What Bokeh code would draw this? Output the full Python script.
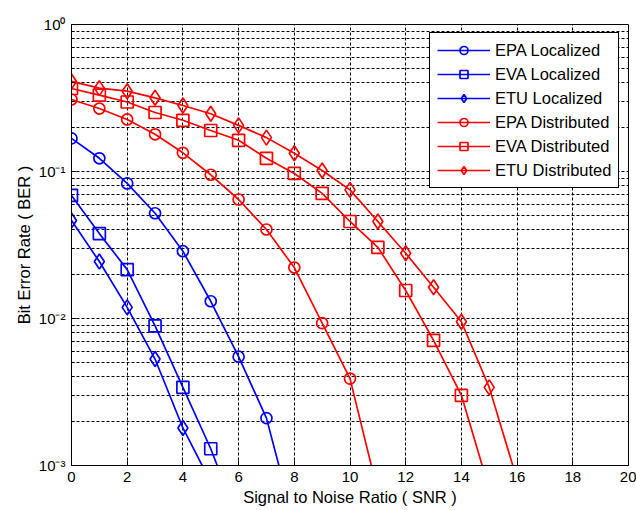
from bokeh.plotting import figure
from bokeh.models import FixedTicker, Legend, LegendItem
from bokeh.embed import file_html
from bokeh.resources import INLINE

# ---- data ----
snr_epa_loc = [0, 1, 2, 3, 4, 5, 6, 7, 8]
ber_epa_loc = [0.168, 0.123, 0.083, 0.052, 0.0287, 0.0131, 0.0055, 0.0021, 0.0004]

snr_eva_loc = [0, 1, 2, 3, 4, 5, 6]
ber_eva_loc = [0.0687, 0.0378, 0.0215, 0.0089, 0.0034, 0.0013, 0.00042]

snr_etu_loc = [0, 1, 2, 3, 4, 5]
ber_etu_loc = [0.0464, 0.0244, 0.0119, 0.0053, 0.0018, 0.00077]

snr_epa_dis = [0, 1, 2, 3, 4, 5, 6, 7, 8, 9, 10, 11]
ber_epa_dis = [0.309, 0.268, 0.226, 0.179, 0.134, 0.095, 0.0645, 0.0403, 0.0222, 0.0093, 0.0039, 0.00066]

snr_eva_dis = [0, 1, 2, 3, 4, 5, 6, 7, 8, 9, 10, 11, 12, 13, 14, 15]
ber_eva_dis = [0.367, 0.331, 0.297, 0.252, 0.223, 0.190, 0.163, 0.123, 0.097, 0.071, 0.0457, 0.0305, 0.0155, 0.0071, 0.0030, 0.00069]

snr_etu_dis = [0, 1, 2, 3, 4, 5, 6, 7, 8, 9, 10, 11, 12, 13, 14, 15, 16]
ber_etu_dis = [0.41, 0.369, 0.352, 0.317, 0.281, 0.247, 0.206, 0.170, 0.133, 0.1016, 0.075, 0.0457, 0.0278, 0.0163, 0.0095, 0.0034, 0.0008]

x_ticks = [0, 2, 4, 6, 8, 10, 12, 14, 16, 18, 20]
y_ticks = [0.001, 0.01, 0.1, 1]
y_tick_labels = {0.001: "10\u207b\u00b3", 0.01: "10\u207b\u00b2", 0.1: "10\u207b\u00b9", 1: "10\u2070"}
y_minor = [k * d for d in (0.001, 0.01, 0.1) for k in range(2, 10)]

series = [
    ("EPA Localized", snr_epa_loc, ber_epa_loc, "blue", "circle"),
    ("EVA Localized", snr_eva_loc, ber_eva_loc, "blue", "square"),
    ("ETU Localized", snr_etu_loc, ber_etu_loc, "blue", "diamond"),
    ("EPA Distributed", snr_epa_dis, ber_epa_dis, "red", "circle"),
    ("EVA Distributed", snr_eva_dis, ber_eva_dis, "red", "square"),
    ("ETU Distributed", snr_etu_dis, ber_etu_dis, "red", "diamond"),
]
marker_sizes = {"circle": 11, "square": 12, "diamond": 15}

FONT = "Liberation Sans"

p = figure(width=636, height=510, y_axis_type="log",
           x_range=(0, 20), y_range=(0.001, 1),
           output_backend="svg", toolbar_location=None,
           min_border_left=71, min_border_right=8, min_border_top=24, min_border_bottom=45)

p.background_fill_color = "white"
p.border_fill_color = "white"
p.outline_line_color = "black"
p.outline_line_alpha = 1
p.outline_line_width = 1

p.xaxis.ticker = FixedTicker(ticks=x_ticks)
p.yaxis.ticker = FixedTicker(ticks=y_ticks, minor_ticks=y_minor)
p.yaxis.major_label_overrides = y_tick_labels

for ax in (p.xaxis[0], p.yaxis[0]):
    ax.axis_line_color = "black"
    ax.major_tick_in = 5
    ax.major_tick_out = 0
    ax.minor_tick_in = 3
    ax.minor_tick_out = 0
    ax.major_label_text_font = FONT
    ax.major_label_text_font_size = "15px"
    ax.major_label_text_color = "black"
    ax.axis_label_text_font = FONT
    ax.axis_label_text_font_size = "16.5px"
    ax.axis_label_text_font_style = "normal"
    ax.axis_label_text_color = "black"
    ax.major_label_standoff = 6
    ax.axis_label_standoff = 3

p.xaxis.axis_label = "Signal to Noise Ratio ( SNR )"
p.yaxis.axis_label = "Bit Error Rate ( BER )"

p.xgrid.grid_line_color = "black"
p.xgrid.grid_line_dash = "3 2"
p.xgrid.grid_line_alpha = 1
p.ygrid.grid_line_color = "black"
p.ygrid.grid_line_dash = "3 2"
p.ygrid.grid_line_alpha = 1
p.ygrid.minor_grid_line_color = "black"
p.ygrid.minor_grid_line_dash = "3 2"
p.ygrid.minor_grid_line_alpha = 1

items = []
for label, xs, ys, color, marker in series:
    r1 = p.line(xs, ys, line_color=color, line_width=1.7)
    r2 = p.scatter(xs, ys, marker=marker, size=marker_sizes[marker], line_color=color,
                   line_width=1.7, fill_alpha=0)
    items.append(LegendItem(label=label, renderers=[r1, r2]))

legend = Legend(items=items, location=(358, 277))
legend.label_text_font = FONT
legend.label_text_font_size = "16.5px"
legend.label_text_color = "black"
legend.border_line_color = "black"
legend.border_line_alpha = 1
legend.background_fill_color = "white"
legend.background_fill_alpha = 1
legend.glyph_width = 53
legend.glyph_height = 20
legend.label_height = 20
legend.spacing = 4
legend.padding = 7
legend.margin = 0
legend.label_standoff = 5
p.add_layout(legend)

open("out.html", "w").write(file_html(p, INLINE))
